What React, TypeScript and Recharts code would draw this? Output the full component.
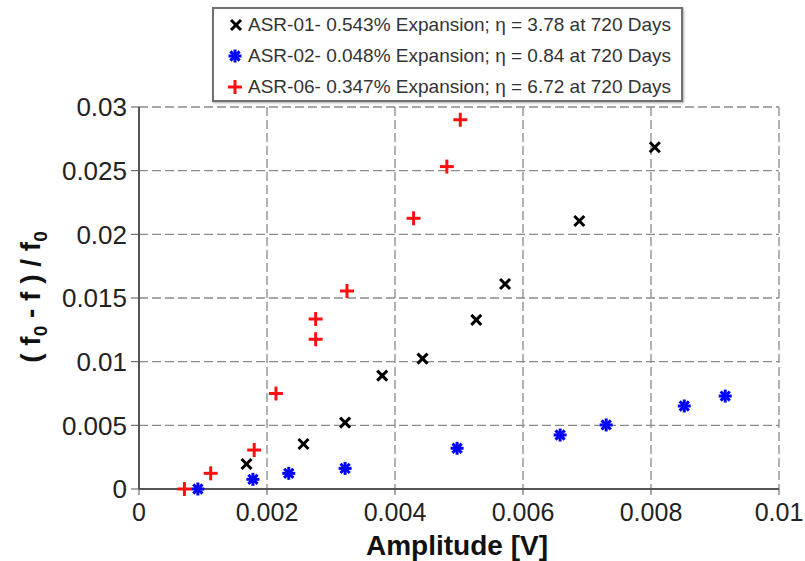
import { ScatterChart, Scatter, XAxis, YAxis, CartesianGrid } from "recharts";

// values
const ASR01_X = [0.00168, 0.00257, 0.00322, 0.0038, 0.00443, 0.00527, 0.00572, 0.00688, 0.00806];
const ASR01_Y = [0.00196, 0.00353, 0.00521, 0.0089, 0.01024, 0.01328, 0.0161, 0.02105, 0.02684];

const ASR02_X = [0.00092, 0.00178, 0.00234, 0.00322, 0.00497, 0.00658, 0.0073, 0.00852, 0.00916];
const ASR02_Y = [0.0, 0.00076, 0.00123, 0.00162, 0.0032, 0.00424, 0.00503, 0.00652, 0.0073];

const ASR06_X = [0.00071, 0.00112, 0.0018, 0.00214, 0.00276, 0.00276, 0.00325, 0.00429, 0.00481, 0.00502];
const ASR06_Y = [0.0, 0.00123, 0.00306, 0.0075, 0.01176, 0.01335, 0.01555, 0.02126, 0.02532, 0.029];

const X_TICKS = [0, 0.002, 0.004, 0.006, 0.008, 0.01];
const Y_TICKS = [0, 0.005, 0.01, 0.015, 0.02, 0.025, 0.03];

const LEGEND = [
  { name: "ASR-01", text: "ASR-01- 0.543% Expansion; η = 3.78 at 720 Days", marker: "cross" },
  { name: "ASR-02", text: "ASR-02- 0.048% Expansion; η = 0.84 at 720 Days", marker: "star" },
  { name: "ASR-06", text: "ASR-06- 0.347% Expansion; η = 6.72 at 720 Days", marker: "plus" },
];

const FONT = '"Liberation Sans", Arial, sans-serif';
const RED = "#ff1010";
const BLUE = "#0000ff";

const toPoints = (xs: number[], ys: number[]) => xs.map((x, i) => ({ x, y: ys[i] }));

function Cross({ cx, cy }: { cx?: number; cy?: number }) {
  const r = 5;
  if (cx == null || cy == null) return null;
  return (
    <g stroke="#000" strokeWidth={3}>
      <line x1={cx - r} y1={cy - r} x2={cx + r} y2={cy + r} />
      <line x1={cx - r} y1={cy + r} x2={cx + r} y2={cy - r} />
    </g>
  );
}

function Plus({ cx, cy }: { cx?: number; cy?: number }) {
  const r = 7;
  if (cx == null || cy == null) return null;
  return (
    <g stroke={RED} strokeWidth={3}>
      <line x1={cx - r} y1={cy} x2={cx + r} y2={cy} />
      <line x1={cx} y1={cy - r} x2={cx} y2={cy + r} />
    </g>
  );
}

function Star({ cx, cy }: { cx?: number; cy?: number }) {
  const r = 6.5;
  if (cx == null || cy == null) return null;
  const d = r * Math.SQRT1_2;
  return (
    <g stroke={BLUE} strokeWidth={3} fill={BLUE}>
      <line x1={cx - r} y1={cy} x2={cx + r} y2={cy} />
      <line x1={cx} y1={cy - r} x2={cx} y2={cy + r} />
      <line x1={cx - d} y1={cy - d} x2={cx + d} y2={cy + d} />
      <line x1={cx - d} y1={cy + d} x2={cx + d} y2={cy - d} />
      <circle cx={cx} cy={cy} r={3} strokeWidth={0} />
    </g>
  );
}

function LegendBox() {
  return (
    <div
      style={{
        position: "absolute",
        left: 212,
        top: 7,
        width: 467,
        height: 91,
        border: "2px solid #707070",
        boxShadow: "1px 1px 2px #aaa",
        background: "#fff",
        fontFamily: FONT,
        fontSize: 19,
        color: "#333",
      }}
    >
      {LEGEND.map((item) => (
        <div key={item.name} style={{ display: "flex", alignItems: "center", height: 31 }}>
          <svg width={34} height={31} style={{ flex: "none" }}>
            {item.marker === "cross" && <Cross cx={22} cy={16} />}
            {item.marker === "star" && <Star cx={21} cy={16} />}
            {item.marker === "plus" && <Plus cx={21} cy={16} />}
          </svg>
          <span style={{ whiteSpace: "nowrap" }}>{item.text}</span>
        </div>
      ))}
    </div>
  );
}

export default function App() {
  return (
    <div style={{ position: "absolute", left: 0, top: 0, width: 805, height: 561, background: "#fff" }}>
      <ScatterChart width={805} height={561} margin={{ top: 107, right: 26, bottom: 32, left: 29 }}>
        <CartesianGrid stroke="#8a8a8a" strokeWidth={1.3} strokeDasharray="9 4" />
        <XAxis
          type="number"
          dataKey="x"
          domain={[0, 0.01]}
          ticks={X_TICKS}
          tickFormatter={(v: number) => String(v)}
          height={40}
          tickSize={6}
          tickMargin={8}
          axisLine={{ stroke: "#555", strokeWidth: 2 }}
          tickLine={{ stroke: "#555" }}
          tick={{ fontSize: 25, fill: "#222", fontFamily: FONT }}
          label={{
            content: () => (
              <text x={457} y={555} textAnchor="middle" fontFamily={FONT} fontWeight="bold" fontSize={28} fill="#111">
                Amplitude [V]
              </text>
            ),
          }}
        />
        <YAxis
          type="number"
          dataKey="y"
          domain={[0, 0.03]}
          ticks={Y_TICKS}
          tickFormatter={(v: number) => String(v)}
          width={110}
          tickSize={8}
          tickMargin={4}
          axisLine={{ stroke: "#555", strokeWidth: 2 }}
          tickLine={{ stroke: "#555" }}
          tick={{ fontSize: 26, fill: "#222", fontFamily: FONT }}
          label={{
            content: () => (
              <text
                x={40}
                y={297}
                transform="rotate(-90 40 297)"
                textAnchor="middle"
                fontFamily={FONT}
                fontWeight="bold"
                fontSize={28}
                fill="#111"
              >
                {"( f"}
                <tspan fontSize={19} dy={7}>0</tspan>
                <tspan dy={-7}>{" - f ) / f"}</tspan>
                <tspan fontSize={19} dy={7}>0</tspan>
              </text>
            ),
          }}
        />
        <Scatter name="ASR-01" data={toPoints(ASR01_X, ASR01_Y)} shape={<Cross />} isAnimationActive={false} />
        <Scatter name="ASR-02" data={toPoints(ASR02_X, ASR02_Y)} shape={<Star />} isAnimationActive={false} />
        <Scatter name="ASR-06" data={toPoints(ASR06_X, ASR06_Y)} shape={<Plus />} isAnimationActive={false} />
      </ScatterChart>
      <LegendBox />
    </div>
  );
}
